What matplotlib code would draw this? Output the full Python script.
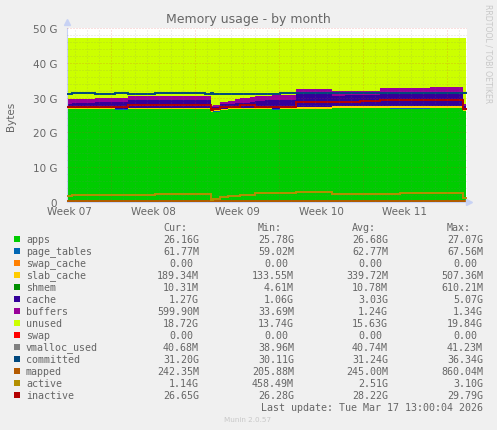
import numpy as np
import matplotlib
matplotlib.use("Agg")
import matplotlib.pyplot as plt

W, H = 497, 431
LEFT, RIGHT, TOP, BOTTOM = 67, 467, 29, 203
BG = "#f0f0f0"
TXT = "#666666"

days = [-3.67, -3.25, -1.33, 0.33, 1.42, 3.67, 5.75, 7.83, 8.33, 8.5, 9.08, 9.75, 10.33, 10.75,
        11.58, 12.0, 12.83, 13.42, 14.08, 15.42, 18.42, 19.5, 20.75, 22.42, 23.25, 24.08, 26.58, 29.33]
end_day = 29.58

apps = [26.6, 26.6, 26.6, 26.3, 26.7, 26.7, 26.7, 26.6, 25.8, 26.0, 26.5, 26.6, 26.6, 26.6,
        26.6, 26.6, 26.6, 26.4, 26.7, 26.8, 26.9, 27.0, 27.0, 27.0, 26.8, 26.8, 26.9, 26.16]
page_tables = [.06, .06, .06, .35, .06, .06, .06, .06, .06, .06, .06, .06, .06, .06,
               .06, .06, .06, .35, .06, .06, .06, .06, .06, .06, .25, .25, .06, .06]
swap_cache = [0.0] * 28
slab_cache = [.25, .25, .25, .10, .25, .25, .25, .25, .25, .25, .25, .25, .25, .25,
              .25, .25, .25, .10, .25, .50, .50, .50, .50, .50, .50, .50, .50, .19]
shmem = [.01, .01, .01, .01, .01, .01, .01, .20, .01, .01, .01, .01, .01, .01,
         .01, .01, .01, .01, .01, .01, .01, .01, .01, .01, .01, .01, .01, .01]
cache = [1.28, 1.43, 1.73, 1.89, 2.18, 2.18, 2.18, 2.09, 1.06, 1.10, 1.20, 1.20, 1.40, 1.58,
         1.88, 2.18, 2.28, 2.49, 2.33, 3.73, 3.03, 3.08, 3.08, 3.78, 3.79, 3.79, 4.18, 1.27]
buffers = [1.3, 1.3, 1.3, 1.3, 1.3, 1.3, 1.3, 1.3, .32, .38, .78, .98, 1.33, 1.3,
           1.3, 1.3, 1.3, 1.3, 1.3, 1.3, 1.3, 1.3, 1.3, 1.3, 1.3, 1.3, 1.3, .6]
unused = [17.5, 17.35, 17.05, 17.05, 16.5, 16.5, 16.5, 16.5, 19.5, 19.2, 18.2, 17.9, 17.35, 17.2,
          16.9, 16.6, 16.5, 16.35, 16.35, 14.6, 15.2, 15.05, 15.05, 14.35, 14.35, 14.35, 14.05, 18.72]
swap = [0.0] * 28
vmalloc_used = [.04] * 28
committed = [31.1, 31.2, 31.1, 31.2, 31.1, 31.2, 31.2, 31.1, 31.2, 31.0, 31.1, 31.1, 31.0, 31.1,
             31.0, 31.0, 31.1, 31.1, 31.2, 31.2, 31.4, 31.3, 31.4, 31.3, 31.4, 31.3, 31.4, 31.2]
mapped = [.24] * 28
active = [1.75, 1.9, 2.1, 2.1, 2.1, 2.3, 2.3, 2.3, .6, 1.0, 1.5, 1.6, 1.7, 1.9,
          2.0, 2.6, 2.6, 2.6, 2.6, 3.0, 2.3, 2.3, 2.3, 2.3, 2.3, 2.6, 2.6, 1.14]
inactive = [27.2, 27.2, 27.2, 27.2, 27.8, 27.8, 27.8, 27.8, 26.3, 26.6, 27.2, 27.2, 27.2, 27.8,
            27.8, 27.2, 27.2, 27.2, 27.2, 28.7, 28.7, 28.7, 28.9, 29.3, 29.3, 29.3, 29.3, 26.65]

names = ["apps", "page_tables", "swap_cache", "slab_cache", "shmem", "cache", "buffers", "unused",
         "swap", "vmalloc_used", "committed", "mapped", "active", "inactive"]
colors = ["#00CC00", "#0066B3", "#FF8000", "#FFCC00", "#008F00", "#330099", "#990099", "#CCFF00",
          "#FF0000", "#808080", "#00487D", "#B35A00", "#B38F00", "#B30000"]
cur = ["26.16G", "61.77M", "0.00", "189.34M", "10.31M", "1.27G", "599.90M", "18.72G",
       "0.00", "40.68M", "31.20G", "242.35M", "1.14G", "26.65G"]
mins = ["25.78G", "59.02M", "0.00", "133.55M", "4.61M", "1.06G", "33.69M", "13.74G",
        "0.00", "38.96M", "30.11G", "205.88M", "458.49M", "26.28G"]
avgs = ["26.68G", "62.77M", "0.00", "339.72M", "10.78M", "3.03G", "1.24G", "15.63G",
        "0.00", "40.74M", "31.24G", "245.00M", "2.51G", "28.22G"]
maxs = ["27.07G", "67.56M", "0.00", "507.36M", "610.21M", "5.07G", "1.34G", "19.84G",
        "0.00", "41.23M", "36.34G", "860.04M", "3.10G", "29.79G"]
week_labels = ["Week 07", "Week 08", "Week 09", "Week 10", "Week 11"]
week_centres = [-3.5, 3.5, 10.5, 17.5, 24.5]
y_ticks = [0, 10, 20, 30, 40, 50]
y_labels = ["0", "10 G", "20 G", "30 G", "40 G", "50 G"]

fig = plt.figure(figsize=(W / 100, H / 100), dpi=100, facecolor=BG)
ax = fig.add_axes([LEFT / W, 1 - BOTTOM / H, (RIGHT - LEFT) / W, (BOTTOM - TOP) / H], facecolor="white")
xlim = ((LEFT - 111) / 12, (RIGHT - 111) / 12)
ax.set_xlim(*xlim)
ax.set_ylim(0, 50)

x = np.r_[days, end_day]
ext = lambda s: np.r_[s, s[-1]]
stack_series = [apps, page_tables, swap_cache, slab_cache, shmem, cache, buffers, unused, swap]
ax.stackplot(x, *[ext(s) for s in stack_series], colors=colors[:9], step="post", linewidth=0, zorder=2)
for s, c, lw in [(vmalloc_used, colors[9], 1.0), (committed, colors[10], 1.4), (mapped, colors[11], 1.4),
                 (active, colors[12], 1.4), (inactive, colors[13], 1.4)]:
    ax.step(x, ext(s), where="post", color=c, lw=lw, zorder=3, solid_joinstyle="miter")

dot = (0, (1, 2))
for yy in range(0, 51, 2):
    if yy % 10:
        ax.axhline(yy, color="#7f7f7f", alpha=.25, lw=.72, ls=dot, zorder=4)
for d in np.arange(-3, 30, 1.0):
    if d % 7:
        ax.axvline(d, color="#7f7f7f", alpha=.25, lw=.72, ls=dot, zorder=4)
for yy in y_ticks[1:]:
    ax.axhline(yy, color="#e03030", alpha=.3, lw=.72, ls=dot, zorder=4)
for d in np.arange(0, 30, 7.0):
    ax.axvline(d, color="#e03030", alpha=.3, lw=.72, ls=dot, zorder=4)

for s in ("top", "right"):
    ax.spines[s].set_visible(False)
for s in ("left", "bottom"):
    ax.spines[s].set_color("#c8d2f4")
    ax.spines[s].set_linewidth(.8)
ax.set_xticks([])
ax.set_yticks(y_ticks)
ax.set_yticklabels(y_labels, fontsize=7.5, color=TXT)
ax.tick_params(axis="y", length=0, pad=7)
ax.plot([0], [1.035], marker="^", ms=4.5, color="#c8d2f4", transform=ax.transAxes, clip_on=False, zorder=5)
ax.plot([1.005], [0], marker=">", ms=4.5, color="#c8d2f4", transform=ax.transAxes, clip_on=False, zorder=5)


def put(px, py, s, **kw):
    kw.setdefault("color", TXT)
    kw.setdefault("va", "center")
    fig.text(px / W, 1 - py / H, s, **kw)


for c, lab in zip(week_centres, week_labels):
    put(111 + c * 12, 212.5, lab, ha="center", fontsize=7.5)

put(248.5, 20, "Memory usage - by month", ha="center", fontsize=9)
put(11, 116, "Bytes", rotation=90, ha="center", fontsize=7.5)
put(488, 54, "RRDTOOL / TOBI OETIKER", rotation=270, ha="center", fontsize=5.6, color="#c8c8c8")
put(248, 420.5, "Munin 2.0.57", ha="center", fontsize=5.2, color="#c8c8c8")

mono = dict(family="DejaVu Sans Mono", fontsize=7.2)
for px, head in [(163, "Cur:"), (258, "Min:"), (352, "Avg:"), (447, "Max:")]:
    put(px, 227.7, head, ha="left", **mono)
for i, nm in enumerate(names):
    yy = 240 + i * 11.98
    fig.patches.append(plt.Rectangle((14 / W, 1 - (yy + 3) / H), 6 / W, 6 / H, transform=fig.transFigure,
                                     facecolor=colors[i], edgecolor="none", figure=fig))
    put(26, yy, nm, ha="left", **mono)
    for rx, vals in [(199, cur), (294, mins), (388, avgs), (483, maxs)]:
        v = vals[i]
        put(rx - (0 if v[-1].isalpha() else 6), yy, v, ha="right", **mono)
put(483, 407.7, "Last update: Tue Mar 17 13:00:04 2026", ha="right", **mono)

fig.savefig("out.png", dpi=100, facecolor=BG)
